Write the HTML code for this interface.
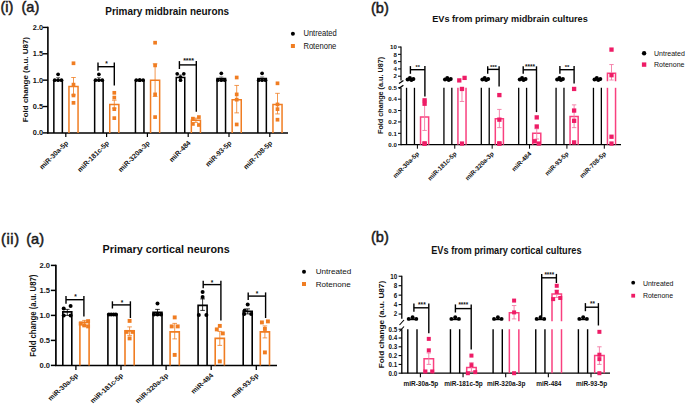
<!DOCTYPE html>
<html><head><meta charset="utf-8"><style>
html,body{margin:0;padding:0;background:#fff;}
svg{display:block;font-family:"Liberation Sans", sans-serif;}
</style></head><body>
<svg width="685" height="406" viewBox="0 0 685 406">
<rect width="685" height="406" fill="#fff"/>
<line x1="47.90" y1="26.70" x2="47.90" y2="133.60" stroke="#000" stroke-width="1.6"/>
<line x1="47.10" y1="132.90" x2="288.00" y2="132.90" stroke="#000" stroke-width="1.5"/>
<line x1="42.90" y1="132.90" x2="47.90" y2="132.90" stroke="#000" stroke-width="1.4"/>
<text x="43.10" y="135.40" font-size="7.1" font-weight="bold" text-anchor="end" fill="#111" transform="translate(43.10 135.40) scale(1.040 1) translate(-43.10 -135.40)">0.0</text>
<line x1="42.90" y1="106.53" x2="47.90" y2="106.53" stroke="#000" stroke-width="1.4"/>
<text x="43.10" y="109.03" font-size="7.1" font-weight="bold" text-anchor="end" fill="#111" transform="translate(43.10 109.03) scale(1.040 1) translate(-43.10 -109.03)">0.5</text>
<line x1="42.90" y1="80.15" x2="47.90" y2="80.15" stroke="#000" stroke-width="1.4"/>
<text x="43.10" y="82.65" font-size="7.1" font-weight="bold" text-anchor="end" fill="#111" transform="translate(43.10 82.65) scale(1.040 1) translate(-43.10 -82.65)">1.0</text>
<line x1="42.90" y1="53.78" x2="47.90" y2="53.78" stroke="#000" stroke-width="1.4"/>
<text x="43.10" y="56.28" font-size="7.1" font-weight="bold" text-anchor="end" fill="#111" transform="translate(43.10 56.28) scale(1.040 1) translate(-43.10 -56.28)">1.5</text>
<line x1="42.90" y1="27.40" x2="47.90" y2="27.40" stroke="#000" stroke-width="1.4"/>
<text x="43.10" y="29.90" font-size="7.1" font-weight="bold" text-anchor="end" fill="#111" transform="translate(43.10 29.90) scale(1.040 1) translate(-43.10 -29.90)">2.0</text>
<text x="28.30" y="79.60" font-size="8.0" font-weight="bold" text-anchor="middle" fill="#111" transform="translate(28.30 79.60) scale(0.870 1) translate(-28.30 -79.60) rotate(-90 28.30 79.60)">Fold change (a.u. U87)</text>
<line x1="65.80" y1="132.90" x2="65.80" y2="136.90" stroke="#000" stroke-width="1.2"/>
<path d="M53.85 132.90 V80.15 H62.35 V132.90" fill="none" stroke="#000" stroke-width="1.5"/>
<path d="M68.95 132.90 V86.48 H78.05 V132.90" fill="none" stroke="#F07D22" stroke-width="1.5"/>
<line x1="58.10" y1="80.15" x2="58.10" y2="77.51" stroke="#555" stroke-width="0.7"/>
<line x1="56.10" y1="77.51" x2="60.10" y2="77.51" stroke="#555" stroke-width="0.7"/>
<line x1="73.50" y1="94.92" x2="73.50" y2="77.51" stroke="#F07D22" stroke-width="0.8"/>
<line x1="71.20" y1="77.51" x2="75.80" y2="77.51" stroke="#F07D22" stroke-width="0.8"/>
<line x1="71.20" y1="94.92" x2="75.80" y2="94.92" stroke="#F07D22" stroke-width="0.8"/>
<circle cx="58.10" cy="74.35" r="1.85" fill="#000"/>
<circle cx="54.70" cy="80.15" r="1.85" fill="#000"/>
<circle cx="58.10" cy="80.15" r="1.85" fill="#000"/>
<circle cx="61.50" cy="80.15" r="1.85" fill="#000"/>
<rect x="71.65" y="61.42" width="3.7" height="3.7" fill="#F07D22"/>
<rect x="71.65" y="82.78" width="3.7" height="3.7" fill="#F07D22"/>
<rect x="71.65" y="93.60" width="3.7" height="3.7" fill="#F07D22"/>
<rect x="71.65" y="100.98" width="3.7" height="3.7" fill="#F07D22"/>
<text x="68.70" y="143.40" font-size="6.95" font-weight="bold" text-anchor="end" fill="#111" transform="rotate(-45 68.70 143.40)">miR-30a-5p</text>
<line x1="106.60" y1="132.90" x2="106.60" y2="136.90" stroke="#000" stroke-width="1.2"/>
<path d="M94.65 132.90 V80.15 H103.15 V132.90" fill="none" stroke="#000" stroke-width="1.5"/>
<path d="M109.75 132.90 V104.42 H118.85 V132.90" fill="none" stroke="#F07D22" stroke-width="1.5"/>
<line x1="98.90" y1="80.15" x2="98.90" y2="77.51" stroke="#555" stroke-width="0.7"/>
<line x1="96.90" y1="77.51" x2="100.90" y2="77.51" stroke="#555" stroke-width="0.7"/>
<line x1="114.30" y1="108.11" x2="114.30" y2="100.20" stroke="#F07D22" stroke-width="0.8"/>
<line x1="112.00" y1="100.20" x2="116.60" y2="100.20" stroke="#F07D22" stroke-width="0.8"/>
<line x1="112.00" y1="108.11" x2="116.60" y2="108.11" stroke="#F07D22" stroke-width="0.8"/>
<circle cx="98.90" cy="74.35" r="1.85" fill="#000"/>
<circle cx="95.50" cy="80.15" r="1.85" fill="#000"/>
<circle cx="98.90" cy="80.15" r="1.85" fill="#000"/>
<circle cx="102.30" cy="80.15" r="1.85" fill="#000"/>
<rect x="112.45" y="90.96" width="3.7" height="3.7" fill="#F07D22"/>
<rect x="112.45" y="95.71" width="3.7" height="3.7" fill="#F07D22"/>
<rect x="112.45" y="107.31" width="3.7" height="3.7" fill="#F07D22"/>
<rect x="112.45" y="116.28" width="3.7" height="3.7" fill="#F07D22"/>
<text x="109.50" y="143.40" font-size="6.95" font-weight="bold" text-anchor="end" fill="#111" transform="rotate(-45 109.50 143.40)">miR-181c-5p</text>
<line x1="147.40" y1="132.90" x2="147.40" y2="136.90" stroke="#000" stroke-width="1.2"/>
<path d="M135.45 132.90 V80.15 H143.95 V132.90" fill="none" stroke="#000" stroke-width="1.5"/>
<path d="M150.55 132.90 V80.15 H159.65 V132.90" fill="none" stroke="#F07D22" stroke-width="1.5"/>
<line x1="139.70" y1="80.15" x2="139.70" y2="79.62" stroke="#555" stroke-width="0.7"/>
<line x1="137.70" y1="79.62" x2="141.70" y2="79.62" stroke="#555" stroke-width="0.7"/>
<line x1="155.10" y1="96.50" x2="155.10" y2="63.80" stroke="#F07D22" stroke-width="0.8"/>
<line x1="152.80" y1="63.80" x2="157.40" y2="63.80" stroke="#F07D22" stroke-width="0.8"/>
<line x1="152.80" y1="96.50" x2="157.40" y2="96.50" stroke="#F07D22" stroke-width="0.8"/>
<circle cx="136.30" cy="80.15" r="1.85" fill="#000"/>
<circle cx="139.70" cy="80.15" r="1.85" fill="#000"/>
<circle cx="143.10" cy="80.15" r="1.85" fill="#000"/>
<circle cx="139.70" cy="80.15" r="1.85" fill="#000"/>
<rect x="153.25" y="40.85" width="3.7" height="3.7" fill="#F07D22"/>
<rect x="153.25" y="63.53" width="3.7" height="3.7" fill="#F07D22"/>
<rect x="153.25" y="92.54" width="3.7" height="3.7" fill="#F07D22"/>
<rect x="153.25" y="115.23" width="3.7" height="3.7" fill="#F07D22"/>
<text x="150.30" y="143.40" font-size="6.95" font-weight="bold" text-anchor="end" fill="#111" transform="rotate(-45 150.30 143.40)">miR-320a-3p</text>
<line x1="188.20" y1="132.90" x2="188.20" y2="136.90" stroke="#000" stroke-width="1.2"/>
<path d="M176.25 132.90 V77.51 H184.75 V132.90" fill="none" stroke="#000" stroke-width="1.5"/>
<path d="M191.35 132.90 V120.24 H200.45 V132.90" fill="none" stroke="#F07D22" stroke-width="1.5"/>
<line x1="180.50" y1="77.51" x2="180.50" y2="74.88" stroke="#555" stroke-width="0.7"/>
<line x1="178.50" y1="74.88" x2="182.50" y2="74.88" stroke="#555" stroke-width="0.7"/>
<line x1="195.90" y1="122.35" x2="195.90" y2="118.13" stroke="#F07D22" stroke-width="0.8"/>
<line x1="193.60" y1="118.13" x2="198.20" y2="118.13" stroke="#F07D22" stroke-width="0.8"/>
<line x1="193.60" y1="122.35" x2="198.20" y2="122.35" stroke="#F07D22" stroke-width="0.8"/>
<circle cx="177.20" cy="73.82" r="1.85" fill="#000"/>
<circle cx="183.80" cy="73.82" r="1.85" fill="#000"/>
<circle cx="180.50" cy="76.98" r="1.85" fill="#000"/>
<circle cx="180.50" cy="80.15" r="1.85" fill="#000"/>
<rect x="191.05" y="116.81" width="3.7" height="3.7" fill="#F07D22"/>
<rect x="197.05" y="115.23" width="3.7" height="3.7" fill="#F07D22"/>
<rect x="191.05" y="122.08" width="3.7" height="3.7" fill="#F07D22"/>
<rect x="197.05" y="123.14" width="3.7" height="3.7" fill="#F07D22"/>
<text x="191.10" y="143.40" font-size="6.95" font-weight="bold" text-anchor="end" fill="#111" transform="rotate(-45 191.10 143.40)">miR-484</text>
<line x1="229.00" y1="132.90" x2="229.00" y2="136.90" stroke="#000" stroke-width="1.2"/>
<path d="M217.05 132.90 V78.57 H225.55 V132.90" fill="none" stroke="#000" stroke-width="1.5"/>
<path d="M232.15 132.90 V99.67 H241.25 V132.90" fill="none" stroke="#F07D22" stroke-width="1.5"/>
<line x1="221.30" y1="78.57" x2="221.30" y2="76.98" stroke="#555" stroke-width="0.7"/>
<line x1="219.30" y1="76.98" x2="223.30" y2="76.98" stroke="#555" stroke-width="0.7"/>
<line x1="236.70" y1="112.86" x2="236.70" y2="85.43" stroke="#F07D22" stroke-width="0.8"/>
<line x1="234.40" y1="85.43" x2="239.00" y2="85.43" stroke="#F07D22" stroke-width="0.8"/>
<line x1="234.40" y1="112.86" x2="239.00" y2="112.86" stroke="#F07D22" stroke-width="0.8"/>
<circle cx="221.30" cy="73.29" r="1.85" fill="#000"/>
<circle cx="217.90" cy="80.15" r="1.85" fill="#000"/>
<circle cx="221.30" cy="80.15" r="1.85" fill="#000"/>
<circle cx="224.70" cy="80.15" r="1.85" fill="#000"/>
<rect x="234.85" y="75.66" width="3.7" height="3.7" fill="#F07D22"/>
<rect x="234.85" y="92.54" width="3.7" height="3.7" fill="#F07D22"/>
<rect x="234.85" y="97.82" width="3.7" height="3.7" fill="#F07D22"/>
<rect x="234.85" y="122.61" width="3.7" height="3.7" fill="#F07D22"/>
<text x="231.90" y="143.40" font-size="6.95" font-weight="bold" text-anchor="end" fill="#111" transform="rotate(-45 231.90 143.40)">miR-93-5p</text>
<line x1="269.80" y1="132.90" x2="269.80" y2="136.90" stroke="#000" stroke-width="1.2"/>
<path d="M257.85 132.90 V78.57 H266.35 V132.90" fill="none" stroke="#000" stroke-width="1.5"/>
<path d="M272.95 132.90 V104.42 H282.05 V132.90" fill="none" stroke="#F07D22" stroke-width="1.5"/>
<line x1="262.10" y1="78.57" x2="262.10" y2="76.98" stroke="#555" stroke-width="0.7"/>
<line x1="260.10" y1="76.98" x2="264.10" y2="76.98" stroke="#555" stroke-width="0.7"/>
<line x1="277.50" y1="113.91" x2="277.50" y2="93.34" stroke="#F07D22" stroke-width="0.8"/>
<line x1="275.20" y1="93.34" x2="279.80" y2="93.34" stroke="#F07D22" stroke-width="0.8"/>
<line x1="275.20" y1="113.91" x2="279.80" y2="113.91" stroke="#F07D22" stroke-width="0.8"/>
<circle cx="262.10" cy="73.29" r="1.85" fill="#000"/>
<circle cx="258.70" cy="80.15" r="1.85" fill="#000"/>
<circle cx="262.10" cy="80.15" r="1.85" fill="#000"/>
<circle cx="265.50" cy="80.15" r="1.85" fill="#000"/>
<rect x="275.65" y="81.47" width="3.7" height="3.7" fill="#F07D22"/>
<rect x="275.65" y="102.57" width="3.7" height="3.7" fill="#F07D22"/>
<rect x="275.65" y="107.31" width="3.7" height="3.7" fill="#F07D22"/>
<rect x="275.65" y="117.86" width="3.7" height="3.7" fill="#F07D22"/>
<text x="272.70" y="143.40" font-size="6.95" font-weight="bold" text-anchor="end" fill="#111" transform="rotate(-45 272.70 143.40)">miR-708-5p</text>
<line x1="98.00" y1="66.70" x2="114.30" y2="66.70" stroke="#000" stroke-width="1.4"/>
<line x1="98.00" y1="62.40" x2="98.00" y2="70.80" stroke="#000" stroke-width="1.4"/>
<line x1="114.30" y1="62.40" x2="114.30" y2="85.50" stroke="#000" stroke-width="1.4"/>
<text x="106.40" y="65.85" font-size="6.5" font-weight="bold" text-anchor="middle" fill="#111">*</text>
<line x1="179.40" y1="64.90" x2="196.30" y2="64.90" stroke="#000" stroke-width="1.4"/>
<line x1="179.40" y1="61.10" x2="179.40" y2="69.00" stroke="#000" stroke-width="1.4"/>
<line x1="196.30" y1="61.10" x2="196.30" y2="111.80" stroke="#000" stroke-width="1.4"/>
<text x="188.60" y="62.80" font-size="7.0" font-weight="bold" text-anchor="middle" fill="#111">****</text>
<circle cx="292.90" cy="33.70" r="2.0" fill="#000"/>
<text x="303.40" y="36.40" font-size="8.4" font-weight="normal" text-anchor="start" fill="#111" transform="translate(303.40 36.40) scale(0.905 1) translate(-303.40 -36.40)">Untreated</text>
<rect x="290.90" y="44.00" width="4.0" height="4.0" fill="#F07D22"/>
<text x="303.40" y="48.90" font-size="8.4" font-weight="normal" text-anchor="start" fill="#111" transform="translate(303.40 48.90) scale(0.905 1) translate(-303.40 -48.90)">Rotenone</text>
<text x="105.30" y="14.75" font-size="11.0" font-weight="bold" text-anchor="start" fill="#111" transform="translate(105.30 14.75) scale(0.905 1) translate(-105.30 -14.75)">Primary midbrain neurons</text>
<text x="0.40" y="11.90" font-size="14.6" font-weight="normal" text-anchor="start" fill="#1a1a1a" stroke="#1a1a1a" stroke-width="0.5">(i)</text>
<text x="21.50" y="11.90" font-size="14.6" font-weight="normal" text-anchor="start" fill="#1a1a1a" stroke="#1a1a1a" stroke-width="0.5">(a)</text>
<line x1="401.00" y1="46.55" x2="401.00" y2="80.50" stroke="#000" stroke-width="1.2"/>
<line x1="401.00" y1="87.80" x2="401.00" y2="145.20" stroke="#000" stroke-width="1.2"/>
<line x1="401.00" y1="144.70" x2="621.00" y2="144.70" stroke="#000" stroke-width="1.2"/>
<line x1="399.00" y1="83.50" x2="403.40" y2="80.50" stroke="#000" stroke-width="1.3"/>
<line x1="399.00" y1="88.40" x2="403.40" y2="85.30" stroke="#000" stroke-width="1.3"/>
<line x1="398.00" y1="76.21" x2="401.00" y2="76.21" stroke="#000" stroke-width="1.0"/>
<text x="396.80" y="78.41" font-size="6.1" font-weight="bold" text-anchor="end" fill="#111">2</text>
<line x1="398.00" y1="68.92" x2="401.00" y2="68.92" stroke="#000" stroke-width="1.0"/>
<text x="396.80" y="71.12" font-size="6.1" font-weight="bold" text-anchor="end" fill="#111">4</text>
<line x1="398.00" y1="61.63" x2="401.00" y2="61.63" stroke="#000" stroke-width="1.0"/>
<text x="396.80" y="63.83" font-size="6.1" font-weight="bold" text-anchor="end" fill="#111">6</text>
<line x1="398.00" y1="54.34" x2="401.00" y2="54.34" stroke="#000" stroke-width="1.0"/>
<text x="396.80" y="56.54" font-size="6.1" font-weight="bold" text-anchor="end" fill="#111">8</text>
<line x1="398.00" y1="47.05" x2="401.00" y2="47.05" stroke="#000" stroke-width="1.0"/>
<text x="396.80" y="49.25" font-size="6.1" font-weight="bold" text-anchor="end" fill="#111">10</text>
<line x1="398.00" y1="144.70" x2="401.00" y2="144.70" stroke="#000" stroke-width="1.0"/>
<text x="396.80" y="146.90" font-size="6.1" font-weight="bold" text-anchor="end" fill="#111">0.0</text>
<line x1="398.00" y1="133.32" x2="401.00" y2="133.32" stroke="#000" stroke-width="1.0"/>
<text x="396.80" y="135.52" font-size="6.1" font-weight="bold" text-anchor="end" fill="#111">0.1</text>
<line x1="398.00" y1="121.94" x2="401.00" y2="121.94" stroke="#000" stroke-width="1.0"/>
<text x="396.80" y="124.14" font-size="6.1" font-weight="bold" text-anchor="end" fill="#111">0.2</text>
<line x1="398.00" y1="110.56" x2="401.00" y2="110.56" stroke="#000" stroke-width="1.0"/>
<text x="396.80" y="112.76" font-size="6.1" font-weight="bold" text-anchor="end" fill="#111">0.3</text>
<line x1="398.00" y1="99.18" x2="401.00" y2="99.18" stroke="#000" stroke-width="1.0"/>
<text x="396.80" y="101.38" font-size="6.1" font-weight="bold" text-anchor="end" fill="#111">0.4</text>
<line x1="398.00" y1="87.80" x2="401.00" y2="87.80" stroke="#000" stroke-width="1.0"/>
<text x="396.80" y="90.00" font-size="6.1" font-weight="bold" text-anchor="end" fill="#111">0.5</text>
<text x="382.60" y="95.40" font-size="7.25" font-weight="bold" text-anchor="middle" fill="#111" transform="translate(382.60 95.40) scale(0.920 1) translate(-382.60 -95.40) rotate(-90 382.60 95.40)">Fold change (a.u. U87)</text>
<line x1="417.40" y1="144.70" x2="417.40" y2="148.70" stroke="#000" stroke-width="1.0"/>
<line x1="406.55" y1="87.80" x2="406.55" y2="144.70" stroke="#000" stroke-width="1.3"/>
<line x1="414.45" y1="87.80" x2="414.45" y2="144.70" stroke="#000" stroke-width="1.3"/>
<line x1="406.90" y1="80.00" x2="414.10" y2="80.00" stroke="#000" stroke-width="1.5"/>
<circle cx="407.60" cy="79.50" r="2.0" fill="#000"/>
<circle cx="409.90" cy="77.90" r="2.0" fill="#000"/>
<circle cx="411.40" cy="79.90" r="2.0" fill="#000"/>
<circle cx="413.40" cy="79.10" r="2.0" fill="#000"/>
<path d="M420.55 144.70 V117.05 H428.65 V144.70" fill="none" stroke="#F9407F" stroke-width="1.5"/>
<line x1="424.60" y1="130.47" x2="424.60" y2="100.32" stroke="#F47BA5" stroke-width="0.9"/>
<line x1="422.40" y1="100.32" x2="426.80" y2="100.32" stroke="#F47BA5" stroke-width="0.9"/>
<line x1="422.40" y1="130.47" x2="426.80" y2="130.47" stroke="#F47BA5" stroke-width="0.9"/>
<rect x="422.45" y="98.17" width="4.3" height="4.3" fill="#EE1C66"/>
<rect x="422.45" y="101.58" width="4.3" height="4.3" fill="#EE1C66"/>
<rect x="422.45" y="141.41" width="4.3" height="4.3" fill="#EE1C66"/>
<rect x="422.45" y="141.41" width="4.3" height="4.3" fill="#EE1C66"/>
<text x="419.60" y="154.20" font-size="6.35" font-weight="bold" text-anchor="end" fill="#111" transform="rotate(-45 419.60 154.20)">miR-30a-5p</text>
<line x1="454.78" y1="144.70" x2="454.78" y2="148.70" stroke="#000" stroke-width="1.0"/>
<line x1="443.93" y1="87.80" x2="443.93" y2="144.70" stroke="#000" stroke-width="1.3"/>
<line x1="451.83" y1="87.80" x2="451.83" y2="144.70" stroke="#000" stroke-width="1.3"/>
<line x1="444.28" y1="80.00" x2="451.48" y2="80.00" stroke="#000" stroke-width="1.5"/>
<circle cx="444.98" cy="79.50" r="2.0" fill="#000"/>
<circle cx="447.28" cy="77.90" r="2.0" fill="#000"/>
<circle cx="448.78" cy="79.90" r="2.0" fill="#000"/>
<circle cx="450.78" cy="79.10" r="2.0" fill="#000"/>
<line x1="457.93" y1="87.80" x2="457.93" y2="144.70" stroke="#F9407F" stroke-width="1.5"/>
<line x1="466.03" y1="87.80" x2="466.03" y2="144.70" stroke="#F9407F" stroke-width="1.5"/>
<line x1="461.98" y1="101.46" x2="461.98" y2="88.94" stroke="#F47BA5" stroke-width="0.9"/>
<line x1="459.78" y1="88.94" x2="464.18" y2="88.94" stroke="#F47BA5" stroke-width="0.9"/>
<line x1="459.78" y1="101.46" x2="464.18" y2="101.46" stroke="#F47BA5" stroke-width="0.9"/>
<rect x="462.43" y="75.74" width="4.3" height="4.3" fill="#EE1C66"/>
<rect x="457.13" y="78.25" width="4.3" height="4.3" fill="#EE1C66"/>
<rect x="459.83" y="86.79" width="4.3" height="4.3" fill="#EE1C66"/>
<rect x="459.83" y="141.41" width="4.3" height="4.3" fill="#EE1C66"/>
<text x="456.98" y="154.20" font-size="6.35" font-weight="bold" text-anchor="end" fill="#111" transform="rotate(-45 456.98 154.20)">miR-181c-5p</text>
<line x1="492.16" y1="144.70" x2="492.16" y2="148.70" stroke="#000" stroke-width="1.0"/>
<line x1="481.31" y1="87.80" x2="481.31" y2="144.70" stroke="#000" stroke-width="1.3"/>
<line x1="489.21" y1="87.80" x2="489.21" y2="144.70" stroke="#000" stroke-width="1.3"/>
<line x1="481.66" y1="80.00" x2="488.86" y2="80.00" stroke="#000" stroke-width="1.5"/>
<circle cx="482.36" cy="79.50" r="2.0" fill="#000"/>
<circle cx="484.66" cy="77.90" r="2.0" fill="#000"/>
<circle cx="486.16" cy="79.90" r="2.0" fill="#000"/>
<circle cx="488.16" cy="79.10" r="2.0" fill="#000"/>
<path d="M495.31 144.70 V118.87 H503.41 V144.70" fill="none" stroke="#F9407F" stroke-width="1.5"/>
<line x1="499.36" y1="127.63" x2="499.36" y2="109.42" stroke="#F47BA5" stroke-width="0.9"/>
<line x1="497.16" y1="109.42" x2="501.56" y2="109.42" stroke="#F47BA5" stroke-width="0.9"/>
<line x1="497.16" y1="127.63" x2="501.56" y2="127.63" stroke="#F47BA5" stroke-width="0.9"/>
<rect x="497.21" y="92.93" width="4.3" height="4.3" fill="#EE1C66"/>
<rect x="497.21" y="117.51" width="4.3" height="4.3" fill="#EE1C66"/>
<rect x="497.21" y="141.41" width="4.3" height="4.3" fill="#EE1C66"/>
<rect x="497.21" y="141.41" width="4.3" height="4.3" fill="#EE1C66"/>
<text x="494.36" y="154.20" font-size="6.35" font-weight="bold" text-anchor="end" fill="#111" transform="rotate(-45 494.36 154.20)">miR-320a-3p</text>
<line x1="529.54" y1="144.70" x2="529.54" y2="148.70" stroke="#000" stroke-width="1.0"/>
<line x1="518.69" y1="87.80" x2="518.69" y2="144.70" stroke="#000" stroke-width="1.3"/>
<line x1="526.59" y1="87.80" x2="526.59" y2="144.70" stroke="#000" stroke-width="1.3"/>
<line x1="519.04" y1="80.00" x2="526.24" y2="80.00" stroke="#000" stroke-width="1.5"/>
<circle cx="519.74" cy="79.50" r="2.0" fill="#000"/>
<circle cx="522.04" cy="77.90" r="2.0" fill="#000"/>
<circle cx="523.54" cy="79.90" r="2.0" fill="#000"/>
<circle cx="525.54" cy="79.10" r="2.0" fill="#000"/>
<path d="M532.69 144.70 V133.32 H540.79 V144.70" fill="none" stroke="#F9407F" stroke-width="1.5"/>
<line x1="536.74" y1="139.01" x2="536.74" y2="128.77" stroke="#F47BA5" stroke-width="0.9"/>
<line x1="534.54" y1="128.77" x2="538.94" y2="128.77" stroke="#F47BA5" stroke-width="0.9"/>
<line x1="534.54" y1="139.01" x2="538.94" y2="139.01" stroke="#F47BA5" stroke-width="0.9"/>
<rect x="534.59" y="115.24" width="4.3" height="4.3" fill="#EE1C66"/>
<rect x="534.59" y="124.34" width="4.3" height="4.3" fill="#EE1C66"/>
<rect x="532.59" y="139.14" width="4.3" height="4.3" fill="#EE1C66"/>
<rect x="536.59" y="141.41" width="4.3" height="4.3" fill="#EE1C66"/>
<text x="531.74" y="154.20" font-size="6.35" font-weight="bold" text-anchor="end" fill="#111" transform="rotate(-45 531.74 154.20)">miR-484</text>
<line x1="566.92" y1="144.70" x2="566.92" y2="148.70" stroke="#000" stroke-width="1.0"/>
<line x1="556.07" y1="87.80" x2="556.07" y2="144.70" stroke="#000" stroke-width="1.3"/>
<line x1="563.97" y1="87.80" x2="563.97" y2="144.70" stroke="#000" stroke-width="1.3"/>
<line x1="556.42" y1="80.00" x2="563.62" y2="80.00" stroke="#000" stroke-width="1.5"/>
<circle cx="557.12" cy="79.50" r="2.0" fill="#000"/>
<circle cx="559.42" cy="77.90" r="2.0" fill="#000"/>
<circle cx="560.92" cy="79.90" r="2.0" fill="#000"/>
<circle cx="562.92" cy="79.10" r="2.0" fill="#000"/>
<path d="M570.07 144.70 V116.48 H578.17 V144.70" fill="none" stroke="#F9407F" stroke-width="1.5"/>
<line x1="574.12" y1="127.63" x2="574.12" y2="104.87" stroke="#F47BA5" stroke-width="0.9"/>
<line x1="571.92" y1="104.87" x2="576.32" y2="104.87" stroke="#F47BA5" stroke-width="0.9"/>
<line x1="571.92" y1="127.63" x2="576.32" y2="127.63" stroke="#F47BA5" stroke-width="0.9"/>
<rect x="571.97" y="86.79" width="4.3" height="4.3" fill="#EE1C66"/>
<rect x="571.97" y="108.41" width="4.3" height="4.3" fill="#EE1C66"/>
<rect x="571.97" y="118.65" width="4.3" height="4.3" fill="#EE1C66"/>
<rect x="571.97" y="140.27" width="4.3" height="4.3" fill="#EE1C66"/>
<text x="569.12" y="154.20" font-size="6.35" font-weight="bold" text-anchor="end" fill="#111" transform="rotate(-45 569.12 154.20)">miR-93-5p</text>
<line x1="604.30" y1="144.70" x2="604.30" y2="148.70" stroke="#000" stroke-width="1.0"/>
<line x1="593.45" y1="87.80" x2="593.45" y2="144.70" stroke="#000" stroke-width="1.3"/>
<line x1="601.35" y1="87.80" x2="601.35" y2="144.70" stroke="#000" stroke-width="1.3"/>
<line x1="593.80" y1="80.00" x2="601.00" y2="80.00" stroke="#000" stroke-width="1.5"/>
<circle cx="594.50" cy="79.50" r="2.0" fill="#000"/>
<circle cx="596.80" cy="77.90" r="2.0" fill="#000"/>
<circle cx="598.30" cy="79.90" r="2.0" fill="#000"/>
<circle cx="600.30" cy="79.10" r="2.0" fill="#000"/>
<path d="M607.45 81.20 V73.18 H615.55 V81.20" fill="none" stroke="#F9407F" stroke-width="1.5"/>
<line x1="607.45" y1="87.80" x2="607.45" y2="144.70" stroke="#F9407F" stroke-width="1.5"/>
<line x1="615.55" y1="87.80" x2="615.55" y2="144.70" stroke="#F9407F" stroke-width="1.5"/>
<line x1="611.50" y1="80.00" x2="611.50" y2="64.55" stroke="#F47BA5" stroke-width="0.9"/>
<line x1="609.30" y1="64.55" x2="613.70" y2="64.55" stroke="#F47BA5" stroke-width="0.9"/>
<line x1="609.30" y1="80.00" x2="613.70" y2="80.00" stroke="#F47BA5" stroke-width="0.9"/>
<rect x="609.35" y="47.45" width="4.3" height="4.3" fill="#EE1C66"/>
<rect x="609.35" y="73.04" width="4.3" height="4.3" fill="#EE1C66"/>
<rect x="609.35" y="134.58" width="4.3" height="4.3" fill="#EE1C66"/>
<rect x="609.35" y="141.41" width="4.3" height="4.3" fill="#EE1C66"/>
<text x="606.50" y="154.20" font-size="6.35" font-weight="bold" text-anchor="end" fill="#111" transform="rotate(-45 606.50 154.20)">miR-708-5p</text>
<line x1="410.40" y1="69.70" x2="424.90" y2="69.70" stroke="#000" stroke-width="1.4"/>
<line x1="410.40" y1="66.10" x2="410.40" y2="73.80" stroke="#000" stroke-width="1.4"/>
<line x1="424.90" y1="66.10" x2="424.90" y2="96.60" stroke="#000" stroke-width="1.4"/>
<text x="417.70" y="69.15" font-size="5.5" font-weight="bold" text-anchor="middle" fill="#111">**</text>
<line x1="487.70" y1="69.40" x2="499.10" y2="69.40" stroke="#000" stroke-width="1.4"/>
<line x1="487.70" y1="66.30" x2="487.70" y2="73.80" stroke="#000" stroke-width="1.4"/>
<line x1="499.10" y1="66.30" x2="499.10" y2="86.60" stroke="#000" stroke-width="1.4"/>
<text x="493.40" y="68.90" font-size="6.0" font-weight="bold" text-anchor="middle" fill="#111">***</text>
<line x1="523.20" y1="69.80" x2="536.50" y2="69.80" stroke="#000" stroke-width="1.4"/>
<line x1="523.20" y1="66.30" x2="523.20" y2="73.80" stroke="#000" stroke-width="1.4"/>
<line x1="536.50" y1="66.30" x2="536.50" y2="112.10" stroke="#000" stroke-width="1.4"/>
<text x="530.00" y="68.80" font-size="6.4" font-weight="bold" text-anchor="middle" fill="#111">****</text>
<line x1="559.90" y1="69.70" x2="574.10" y2="69.70" stroke="#000" stroke-width="1.4"/>
<line x1="559.90" y1="66.10" x2="559.90" y2="73.70" stroke="#000" stroke-width="1.4"/>
<line x1="574.10" y1="66.10" x2="574.10" y2="83.40" stroke="#000" stroke-width="1.4"/>
<text x="567.00" y="68.90" font-size="6.0" font-weight="bold" text-anchor="middle" fill="#111">**</text>
<circle cx="644.10" cy="53.30" r="2.2" fill="#000"/>
<text x="654.00" y="55.80" font-size="7.9" font-weight="normal" text-anchor="start" fill="#111" transform="translate(654.00 55.80) scale(0.890 1) translate(-654.00 -55.80)">Untreated</text>
<rect x="641.90" y="62.40" width="4.4" height="4.4" fill="#EE1C66"/>
<text x="654.00" y="67.10" font-size="7.9" font-weight="normal" text-anchor="start" fill="#111" transform="translate(654.00 67.10) scale(0.890 1) translate(-654.00 -67.10)">Rotenone</text>
<text x="432.20" y="21.60" font-size="9.4" font-weight="bold" text-anchor="start" fill="#111" transform="translate(432.20 21.60) scale(0.975 1) translate(-432.20 -21.60)">EVs from primary midbrain cultures</text>
<text x="371.00" y="12.50" font-size="14.6" font-weight="normal" text-anchor="start" fill="#1a1a1a" stroke="#1a1a1a" stroke-width="0.5">(b)</text>
<line x1="55.90" y1="264.70" x2="55.90" y2="366.10" stroke="#000" stroke-width="1.7"/>
<line x1="55.10" y1="365.40" x2="277.00" y2="365.40" stroke="#000" stroke-width="1.5"/>
<line x1="50.90" y1="365.40" x2="55.90" y2="365.40" stroke="#000" stroke-width="1.5"/>
<text x="50.10" y="367.90" font-size="7.0" font-weight="bold" text-anchor="end" fill="#111" transform="translate(50.10 367.90) scale(1.090 1) translate(-50.10 -367.90)">0.0</text>
<line x1="50.90" y1="340.40" x2="55.90" y2="340.40" stroke="#000" stroke-width="1.5"/>
<text x="50.10" y="342.90" font-size="7.0" font-weight="bold" text-anchor="end" fill="#111" transform="translate(50.10 342.90) scale(1.090 1) translate(-50.10 -342.90)">0.5</text>
<line x1="50.90" y1="315.40" x2="55.90" y2="315.40" stroke="#000" stroke-width="1.5"/>
<text x="50.10" y="317.90" font-size="7.0" font-weight="bold" text-anchor="end" fill="#111" transform="translate(50.10 317.90) scale(1.090 1) translate(-50.10 -317.90)">1.0</text>
<line x1="50.90" y1="290.40" x2="55.90" y2="290.40" stroke="#000" stroke-width="1.5"/>
<text x="50.10" y="292.90" font-size="7.0" font-weight="bold" text-anchor="end" fill="#111" transform="translate(50.10 292.90) scale(1.090 1) translate(-50.10 -292.90)">1.5</text>
<line x1="50.90" y1="265.40" x2="55.90" y2="265.40" stroke="#000" stroke-width="1.5"/>
<text x="50.10" y="267.90" font-size="7.0" font-weight="bold" text-anchor="end" fill="#111" transform="translate(50.10 267.90) scale(1.090 1) translate(-50.10 -267.90)">2.0</text>
<text x="36.20" y="315.75" font-size="7.7" font-weight="bold" text-anchor="middle" fill="#111" transform="translate(36.20 315.75) scale(1.070 1) translate(-36.20 -315.75) rotate(-90 36.20 315.75)">Fold change (a.u. U87)</text>
<line x1="75.90" y1="365.40" x2="75.90" y2="369.90" stroke="#000" stroke-width="1.3"/>
<path d="M62.80 365.40 V311.90 H71.80 V365.40" fill="none" stroke="#000" stroke-width="1.6"/>
<path d="M79.90 365.40 V322.40 H89.10 V365.40" fill="none" stroke="#F07D22" stroke-width="1.6"/>
<line x1="67.30" y1="315.40" x2="67.30" y2="309.40" stroke="#000" stroke-width="0.8"/>
<line x1="65.00" y1="309.40" x2="69.60" y2="309.40" stroke="#000" stroke-width="0.8"/>
<line x1="65.00" y1="315.40" x2="69.60" y2="315.40" stroke="#000" stroke-width="0.8"/>
<line x1="84.50" y1="325.40" x2="84.50" y2="320.40" stroke="#F07D22" stroke-width="0.8"/>
<line x1="82.20" y1="320.40" x2="86.80" y2="320.40" stroke="#F07D22" stroke-width="0.8"/>
<line x1="82.20" y1="325.40" x2="86.80" y2="325.40" stroke="#F07D22" stroke-width="0.8"/>
<circle cx="70.60" cy="305.90" r="2.0" fill="#000"/>
<circle cx="63.70" cy="308.40" r="2.0" fill="#000"/>
<circle cx="63.70" cy="315.40" r="2.0" fill="#000"/>
<circle cx="70.60" cy="315.40" r="2.0" fill="#000"/>
<rect x="86.15" y="319.20" width="3.9" height="3.9" fill="#F07D22"/>
<rect x="78.75" y="321.70" width="3.9" height="3.9" fill="#F07D22"/>
<rect x="86.15" y="324.45" width="3.9" height="3.9" fill="#F07D22"/>
<rect x="82.25" y="323.45" width="3.9" height="3.9" fill="#F07D22"/>
<text x="78.70" y="376.00" font-size="6.55" font-weight="bold" text-anchor="end" fill="#111" transform="translate(78.70 376.00) scale(1.120 1) translate(-78.70 -376.00) rotate(-45 78.70 376.00)">miR-30a-5p</text>
<line x1="121.00" y1="365.40" x2="121.00" y2="369.90" stroke="#000" stroke-width="1.3"/>
<path d="M107.90 365.40 V314.40 H116.90 V365.40" fill="none" stroke="#000" stroke-width="1.6"/>
<path d="M125.00 365.40 V330.90 H134.20 V365.40" fill="none" stroke="#F07D22" stroke-width="1.6"/>
<line x1="112.40" y1="315.40" x2="112.40" y2="313.90" stroke="#000" stroke-width="0.8"/>
<line x1="110.10" y1="313.90" x2="114.70" y2="313.90" stroke="#000" stroke-width="0.8"/>
<line x1="110.10" y1="315.40" x2="114.70" y2="315.40" stroke="#000" stroke-width="0.8"/>
<line x1="129.60" y1="335.40" x2="129.60" y2="326.90" stroke="#F07D22" stroke-width="0.8"/>
<line x1="127.30" y1="326.90" x2="131.90" y2="326.90" stroke="#F07D22" stroke-width="0.8"/>
<line x1="127.30" y1="335.40" x2="131.90" y2="335.40" stroke="#F07D22" stroke-width="0.8"/>
<circle cx="108.90" cy="314.40" r="2.0" fill="#000"/>
<circle cx="111.20" cy="314.40" r="2.0" fill="#000"/>
<circle cx="113.60" cy="314.40" r="2.0" fill="#000"/>
<circle cx="115.90" cy="314.40" r="2.0" fill="#000"/>
<rect x="127.65" y="318.95" width="3.9" height="3.9" fill="#F07D22"/>
<rect x="124.65" y="329.95" width="3.9" height="3.9" fill="#F07D22"/>
<rect x="130.65" y="329.95" width="3.9" height="3.9" fill="#F07D22"/>
<rect x="127.65" y="336.45" width="3.9" height="3.9" fill="#F07D22"/>
<text x="123.80" y="376.00" font-size="6.55" font-weight="bold" text-anchor="end" fill="#111" transform="translate(123.80 376.00) scale(1.120 1) translate(-123.80 -376.00) rotate(-45 123.80 376.00)">miR-181c-5p</text>
<line x1="166.10" y1="365.40" x2="166.10" y2="369.90" stroke="#000" stroke-width="1.3"/>
<path d="M153.00 365.40 V312.40 H162.00 V365.40" fill="none" stroke="#000" stroke-width="1.6"/>
<path d="M170.10 365.40 V331.90 H179.30 V365.40" fill="none" stroke="#F07D22" stroke-width="1.6"/>
<line x1="157.50" y1="315.40" x2="157.50" y2="309.40" stroke="#000" stroke-width="0.8"/>
<line x1="155.20" y1="309.40" x2="159.80" y2="309.40" stroke="#000" stroke-width="0.8"/>
<line x1="155.20" y1="315.40" x2="159.80" y2="315.40" stroke="#000" stroke-width="0.8"/>
<line x1="174.70" y1="338.90" x2="174.70" y2="323.40" stroke="#F07D22" stroke-width="0.8"/>
<line x1="172.40" y1="323.40" x2="177.00" y2="323.40" stroke="#F07D22" stroke-width="0.8"/>
<line x1="172.40" y1="338.90" x2="177.00" y2="338.90" stroke="#F07D22" stroke-width="0.8"/>
<circle cx="157.50" cy="303.40" r="2.0" fill="#000"/>
<circle cx="154.00" cy="314.40" r="2.0" fill="#000"/>
<circle cx="157.50" cy="314.40" r="2.0" fill="#000"/>
<circle cx="161.00" cy="314.40" r="2.0" fill="#000"/>
<rect x="172.75" y="315.45" width="3.9" height="3.9" fill="#F07D22"/>
<rect x="169.75" y="324.45" width="3.9" height="3.9" fill="#F07D22"/>
<rect x="175.75" y="324.45" width="3.9" height="3.9" fill="#F07D22"/>
<rect x="172.75" y="352.95" width="3.9" height="3.9" fill="#F07D22"/>
<text x="168.90" y="376.00" font-size="6.55" font-weight="bold" text-anchor="end" fill="#111" transform="translate(168.90 376.00) scale(1.120 1) translate(-168.90 -376.00) rotate(-45 168.90 376.00)">miR-320a-3p</text>
<line x1="211.20" y1="365.40" x2="211.20" y2="369.90" stroke="#000" stroke-width="1.3"/>
<path d="M198.10 365.40 V305.40 H207.10 V365.40" fill="none" stroke="#000" stroke-width="1.6"/>
<path d="M215.20 365.40 V338.40 H224.40 V365.40" fill="none" stroke="#F07D22" stroke-width="1.6"/>
<line x1="202.60" y1="310.40" x2="202.60" y2="298.90" stroke="#000" stroke-width="0.8"/>
<line x1="200.30" y1="298.90" x2="204.90" y2="298.90" stroke="#000" stroke-width="0.8"/>
<line x1="200.30" y1="310.40" x2="204.90" y2="310.40" stroke="#000" stroke-width="0.8"/>
<line x1="219.80" y1="345.40" x2="219.80" y2="331.40" stroke="#F07D22" stroke-width="0.8"/>
<line x1="217.50" y1="331.40" x2="222.10" y2="331.40" stroke="#F07D22" stroke-width="0.8"/>
<line x1="217.50" y1="345.40" x2="222.10" y2="345.40" stroke="#F07D22" stroke-width="0.8"/>
<circle cx="202.60" cy="291.90" r="2.0" fill="#000"/>
<circle cx="202.60" cy="296.90" r="2.0" fill="#000"/>
<circle cx="198.80" cy="314.90" r="2.0" fill="#000"/>
<circle cx="206.40" cy="314.90" r="2.0" fill="#000"/>
<rect x="217.85" y="323.95" width="3.9" height="3.9" fill="#F07D22"/>
<rect x="214.85" y="327.45" width="3.9" height="3.9" fill="#F07D22"/>
<rect x="220.85" y="331.45" width="3.9" height="3.9" fill="#F07D22"/>
<rect x="217.85" y="359.45" width="3.9" height="3.9" fill="#F07D22"/>
<text x="214.00" y="376.00" font-size="6.55" font-weight="bold" text-anchor="end" fill="#111" transform="translate(214.00 376.00) scale(1.120 1) translate(-214.00 -376.00) rotate(-45 214.00 376.00)">miR-484</text>
<line x1="256.30" y1="365.40" x2="256.30" y2="369.90" stroke="#000" stroke-width="1.3"/>
<path d="M243.20 365.40 V311.40 H252.20 V365.40" fill="none" stroke="#000" stroke-width="1.6"/>
<path d="M260.30 365.40 V331.90 H269.50 V365.40" fill="none" stroke="#F07D22" stroke-width="1.6"/>
<line x1="247.70" y1="313.90" x2="247.70" y2="308.90" stroke="#000" stroke-width="0.8"/>
<line x1="245.40" y1="308.90" x2="250.00" y2="308.90" stroke="#000" stroke-width="0.8"/>
<line x1="245.40" y1="313.90" x2="250.00" y2="313.90" stroke="#000" stroke-width="0.8"/>
<line x1="264.90" y1="337.90" x2="264.90" y2="325.90" stroke="#F07D22" stroke-width="0.8"/>
<line x1="262.60" y1="325.90" x2="267.20" y2="325.90" stroke="#F07D22" stroke-width="0.8"/>
<line x1="262.60" y1="337.90" x2="267.20" y2="337.90" stroke="#F07D22" stroke-width="0.8"/>
<circle cx="247.70" cy="304.40" r="2.0" fill="#000"/>
<circle cx="244.70" cy="310.40" r="2.0" fill="#000"/>
<circle cx="244.20" cy="313.90" r="2.0" fill="#000"/>
<circle cx="251.20" cy="313.90" r="2.0" fill="#000"/>
<rect x="259.95" y="320.45" width="3.9" height="3.9" fill="#F07D22"/>
<rect x="265.95" y="319.45" width="3.9" height="3.9" fill="#F07D22"/>
<rect x="262.95" y="326.95" width="3.9" height="3.9" fill="#F07D22"/>
<rect x="262.95" y="350.45" width="3.9" height="3.9" fill="#F07D22"/>
<text x="259.10" y="376.00" font-size="6.55" font-weight="bold" text-anchor="end" fill="#111" transform="translate(259.10 376.00) scale(1.120 1) translate(-259.10 -376.00) rotate(-45 259.10 376.00)">miR-93-5p</text>
<line x1="66.00" y1="299.70" x2="83.90" y2="299.70" stroke="#000" stroke-width="1.4"/>
<line x1="66.00" y1="296.10" x2="66.00" y2="303.70" stroke="#000" stroke-width="1.4"/>
<line x1="83.90" y1="296.10" x2="83.90" y2="316.60" stroke="#000" stroke-width="1.4"/>
<text x="75.40" y="299.35" font-size="6.5" font-weight="bold" text-anchor="middle" fill="#111">*</text>
<line x1="112.40" y1="304.90" x2="130.40" y2="304.90" stroke="#000" stroke-width="1.4"/>
<line x1="112.40" y1="301.30" x2="112.40" y2="308.50" stroke="#000" stroke-width="1.4"/>
<line x1="130.40" y1="301.30" x2="130.40" y2="318.00" stroke="#000" stroke-width="1.4"/>
<text x="122.00" y="304.85" font-size="6.5" font-weight="bold" text-anchor="middle" fill="#111">*</text>
<line x1="203.20" y1="284.60" x2="220.90" y2="284.60" stroke="#000" stroke-width="1.4"/>
<line x1="203.20" y1="280.70" x2="203.20" y2="288.30" stroke="#000" stroke-width="1.4"/>
<line x1="220.90" y1="280.70" x2="220.90" y2="320.50" stroke="#000" stroke-width="1.4"/>
<text x="212.10" y="284.65" font-size="6.5" font-weight="bold" text-anchor="middle" fill="#111">*</text>
<line x1="248.20" y1="296.10" x2="265.60" y2="296.10" stroke="#000" stroke-width="1.4"/>
<line x1="248.20" y1="292.40" x2="248.20" y2="300.00" stroke="#000" stroke-width="1.4"/>
<line x1="265.60" y1="292.40" x2="265.60" y2="318.00" stroke="#000" stroke-width="1.4"/>
<text x="257.00" y="295.65" font-size="6.5" font-weight="bold" text-anchor="middle" fill="#111">*</text>
<circle cx="304.00" cy="271.70" r="2.0" fill="#000"/>
<text x="315.70" y="274.10" font-size="8.1" font-weight="normal" text-anchor="start" fill="#111">Untreated</text>
<rect x="302.00" y="282.00" width="4.0" height="4.0" fill="#F07D22"/>
<text x="315.70" y="286.50" font-size="8.1" font-weight="normal" text-anchor="start" fill="#111">Rotenone</text>
<text x="102.60" y="252.75" font-size="10.0" font-weight="bold" text-anchor="start" fill="#111" transform="translate(102.60 252.75) scale(1.080 1) translate(-102.60 -252.75)">Primary cortical neurons</text>
<text x="1.00" y="244.00" font-size="14.6" font-weight="normal" text-anchor="start" fill="#1a1a1a" stroke="#1a1a1a" stroke-width="0.5" letter-spacing="0.6">(ii)</text>
<text x="26.20" y="244.00" font-size="14.6" font-weight="normal" text-anchor="start" fill="#1a1a1a" stroke="#1a1a1a" stroke-width="0.5">(a)</text>
<line x1="401.80" y1="275.75" x2="401.80" y2="318.77" stroke="#000" stroke-width="1.3"/>
<line x1="401.80" y1="329.20" x2="401.80" y2="373.70" stroke="#000" stroke-width="1.3"/>
<line x1="401.80" y1="373.20" x2="610.00" y2="373.20" stroke="#000" stroke-width="1.3"/>
<line x1="399.50" y1="325.00" x2="404.00" y2="320.00" stroke="#000" stroke-width="1.1"/>
<line x1="399.50" y1="331.50" x2="404.00" y2="326.50" stroke="#000" stroke-width="1.1"/>
<line x1="398.60" y1="314.05" x2="401.80" y2="314.05" stroke="#000" stroke-width="1.1"/>
<text x="397.20" y="316.45" font-size="6.9" font-weight="bold" text-anchor="end" fill="#111" transform="translate(397.20 316.45) scale(0.900 1) translate(-397.20 -316.45)">2</text>
<line x1="398.60" y1="304.60" x2="401.80" y2="304.60" stroke="#000" stroke-width="1.1"/>
<text x="397.20" y="307.00" font-size="6.9" font-weight="bold" text-anchor="end" fill="#111" transform="translate(397.20 307.00) scale(0.900 1) translate(-397.20 -307.00)">4</text>
<line x1="398.60" y1="295.15" x2="401.80" y2="295.15" stroke="#000" stroke-width="1.1"/>
<text x="397.20" y="297.55" font-size="6.9" font-weight="bold" text-anchor="end" fill="#111" transform="translate(397.20 297.55) scale(0.900 1) translate(-397.20 -297.55)">6</text>
<line x1="398.60" y1="285.70" x2="401.80" y2="285.70" stroke="#000" stroke-width="1.1"/>
<text x="397.20" y="288.10" font-size="6.9" font-weight="bold" text-anchor="end" fill="#111" transform="translate(397.20 288.10) scale(0.900 1) translate(-397.20 -288.10)">8</text>
<line x1="398.60" y1="276.25" x2="401.80" y2="276.25" stroke="#000" stroke-width="1.1"/>
<text x="397.20" y="278.65" font-size="6.9" font-weight="bold" text-anchor="end" fill="#111" transform="translate(397.20 278.65) scale(0.900 1) translate(-397.20 -278.65)">10</text>
<line x1="398.60" y1="373.20" x2="401.80" y2="373.20" stroke="#000" stroke-width="1.1"/>
<text x="397.20" y="375.60" font-size="6.9" font-weight="bold" text-anchor="end" fill="#111" transform="translate(397.20 375.60) scale(0.900 1) translate(-397.20 -375.60)">0.0</text>
<line x1="398.60" y1="364.40" x2="401.80" y2="364.40" stroke="#000" stroke-width="1.1"/>
<text x="397.20" y="366.80" font-size="6.9" font-weight="bold" text-anchor="end" fill="#111" transform="translate(397.20 366.80) scale(0.900 1) translate(-397.20 -366.80)">0.1</text>
<line x1="398.60" y1="355.60" x2="401.80" y2="355.60" stroke="#000" stroke-width="1.1"/>
<text x="397.20" y="358.00" font-size="6.9" font-weight="bold" text-anchor="end" fill="#111" transform="translate(397.20 358.00) scale(0.900 1) translate(-397.20 -358.00)">0.2</text>
<line x1="398.60" y1="346.80" x2="401.80" y2="346.80" stroke="#000" stroke-width="1.1"/>
<text x="397.20" y="349.20" font-size="6.9" font-weight="bold" text-anchor="end" fill="#111" transform="translate(397.20 349.20) scale(0.900 1) translate(-397.20 -349.20)">0.3</text>
<line x1="398.60" y1="338.00" x2="401.80" y2="338.00" stroke="#000" stroke-width="1.1"/>
<text x="397.20" y="340.40" font-size="6.9" font-weight="bold" text-anchor="end" fill="#111" transform="translate(397.20 340.40) scale(0.900 1) translate(-397.20 -340.40)">0.4</text>
<line x1="398.60" y1="329.20" x2="401.80" y2="329.20" stroke="#000" stroke-width="1.1"/>
<text x="397.20" y="331.60" font-size="6.9" font-weight="bold" text-anchor="end" fill="#111" transform="translate(397.20 331.60) scale(0.900 1) translate(-397.20 -331.60)">0.5</text>
<text x="383.90" y="324.50" font-size="8.2" font-weight="bold" text-anchor="middle" fill="#111" transform="translate(383.90 324.50) scale(0.800 1) translate(-383.90 -324.50) rotate(-90 383.90 324.50)">Fold change (a.u. U87)</text>
<line x1="420.40" y1="373.20" x2="420.40" y2="377.20" stroke="#000" stroke-width="1.1"/>
<line x1="407.80" y1="329.20" x2="407.80" y2="373.20" stroke="#000" stroke-width="1.4"/>
<line x1="417.00" y1="329.20" x2="417.00" y2="373.20" stroke="#000" stroke-width="1.4"/>
<line x1="408.20" y1="319.40" x2="416.60" y2="319.40" stroke="#000" stroke-width="1.6"/>
<circle cx="408.70" cy="318.90" r="1.95" fill="#000"/>
<circle cx="412.60" cy="317.30" r="1.95" fill="#000"/>
<circle cx="416.30" cy="318.90" r="1.95" fill="#000"/>
<path d="M424.05 373.20 V358.68 H433.55 V373.20" fill="none" stroke="#F9407F" stroke-width="1.5"/>
<line x1="428.80" y1="364.40" x2="428.80" y2="352.96" stroke="#F47BA5" stroke-width="0.9"/>
<line x1="426.60" y1="352.96" x2="431.00" y2="352.96" stroke="#F47BA5" stroke-width="0.9"/>
<line x1="426.60" y1="364.40" x2="431.00" y2="364.40" stroke="#F47BA5" stroke-width="0.9"/>
<rect x="426.80" y="336.88" width="4.0" height="4.0" fill="#EE1C66"/>
<rect x="426.80" y="348.32" width="4.0" height="4.0" fill="#EE1C66"/>
<rect x="423.40" y="369.44" width="4.0" height="4.0" fill="#EE1C66"/>
<rect x="430.20" y="369.44" width="4.0" height="4.0" fill="#EE1C66"/>
<text x="420.90" y="385.80" font-size="7.6" font-weight="bold" text-anchor="middle" fill="#111" transform="translate(420.90 385.80) scale(0.850 1) translate(-420.90 -385.80)">miR-30a-5p</text>
<line x1="463.05" y1="373.20" x2="463.05" y2="377.20" stroke="#000" stroke-width="1.1"/>
<line x1="450.45" y1="329.20" x2="450.45" y2="373.20" stroke="#000" stroke-width="1.4"/>
<line x1="459.65" y1="329.20" x2="459.65" y2="373.20" stroke="#000" stroke-width="1.4"/>
<line x1="450.85" y1="319.40" x2="459.25" y2="319.40" stroke="#000" stroke-width="1.6"/>
<circle cx="451.35" cy="318.90" r="1.95" fill="#000"/>
<circle cx="455.25" cy="317.30" r="1.95" fill="#000"/>
<circle cx="458.95" cy="318.90" r="1.95" fill="#000"/>
<path d="M466.70 373.20 V367.57 H476.20 V373.20" fill="none" stroke="#F9407F" stroke-width="1.5"/>
<line x1="471.45" y1="371.44" x2="471.45" y2="362.64" stroke="#F47BA5" stroke-width="0.9"/>
<line x1="469.25" y1="362.64" x2="473.65" y2="362.64" stroke="#F47BA5" stroke-width="0.9"/>
<line x1="469.25" y1="371.44" x2="473.65" y2="371.44" stroke="#F47BA5" stroke-width="0.9"/>
<rect x="469.45" y="353.60" width="4.0" height="4.0" fill="#EE1C66"/>
<rect x="469.45" y="363.10" width="4.0" height="4.0" fill="#EE1C66"/>
<rect x="465.85" y="371.20" width="4.0" height="4.0" fill="#EE1C66"/>
<rect x="473.25" y="370.14" width="4.0" height="4.0" fill="#EE1C66"/>
<text x="463.55" y="385.80" font-size="7.6" font-weight="bold" text-anchor="middle" fill="#111" transform="translate(463.55 385.80) scale(0.850 1) translate(-463.55 -385.80)">miR-181c-5p</text>
<line x1="505.70" y1="373.20" x2="505.70" y2="377.20" stroke="#000" stroke-width="1.1"/>
<line x1="493.10" y1="329.20" x2="493.10" y2="373.20" stroke="#000" stroke-width="1.4"/>
<line x1="502.30" y1="329.20" x2="502.30" y2="373.20" stroke="#000" stroke-width="1.4"/>
<line x1="493.50" y1="319.40" x2="501.90" y2="319.40" stroke="#000" stroke-width="1.6"/>
<circle cx="494.00" cy="318.90" r="1.95" fill="#000"/>
<circle cx="497.90" cy="317.30" r="1.95" fill="#000"/>
<circle cx="501.60" cy="318.90" r="1.95" fill="#000"/>
<path d="M509.35 321.30 V312.87 H518.85 V321.30" fill="none" stroke="#F9407F" stroke-width="1.5"/>
<line x1="509.35" y1="329.20" x2="509.35" y2="373.20" stroke="#F9407F" stroke-width="1.5"/>
<line x1="518.85" y1="329.20" x2="518.85" y2="373.20" stroke="#F9407F" stroke-width="1.5"/>
<line x1="514.10" y1="318.92" x2="514.10" y2="305.55" stroke="#F47BA5" stroke-width="0.9"/>
<line x1="511.90" y1="305.55" x2="516.30" y2="305.55" stroke="#F47BA5" stroke-width="0.9"/>
<line x1="511.90" y1="318.92" x2="516.30" y2="318.92" stroke="#F47BA5" stroke-width="0.9"/>
<rect x="512.10" y="298.58" width="4.0" height="4.0" fill="#EE1C66"/>
<rect x="512.10" y="310.40" width="4.0" height="4.0" fill="#EE1C66"/>
<rect x="512.10" y="371.20" width="4.0" height="4.0" fill="#EE1C66"/>
<text x="506.20" y="385.80" font-size="7.6" font-weight="bold" text-anchor="middle" fill="#111" transform="translate(506.20 385.80) scale(0.850 1) translate(-506.20 -385.80)">miR-320a-3p</text>
<line x1="548.35" y1="373.20" x2="548.35" y2="377.20" stroke="#000" stroke-width="1.1"/>
<line x1="535.75" y1="329.20" x2="535.75" y2="373.20" stroke="#000" stroke-width="1.4"/>
<line x1="544.95" y1="329.20" x2="544.95" y2="373.20" stroke="#000" stroke-width="1.4"/>
<line x1="536.15" y1="319.40" x2="544.55" y2="319.40" stroke="#000" stroke-width="1.6"/>
<circle cx="536.65" cy="318.90" r="1.95" fill="#000"/>
<circle cx="540.55" cy="317.30" r="1.95" fill="#000"/>
<circle cx="544.25" cy="318.90" r="1.95" fill="#000"/>
<path d="M552.00 321.30 V293.92 H561.50 V321.30" fill="none" stroke="#F9407F" stroke-width="1.5"/>
<line x1="552.00" y1="329.20" x2="552.00" y2="373.20" stroke="#F9407F" stroke-width="1.5"/>
<line x1="561.50" y1="329.20" x2="561.50" y2="373.20" stroke="#F9407F" stroke-width="1.5"/>
<line x1="556.75" y1="297.51" x2="556.75" y2="290.19" stroke="#F47BA5" stroke-width="0.9"/>
<line x1="554.55" y1="290.19" x2="558.95" y2="290.19" stroke="#F47BA5" stroke-width="0.9"/>
<line x1="554.55" y1="297.51" x2="558.95" y2="297.51" stroke="#F47BA5" stroke-width="0.9"/>
<rect x="554.75" y="283.79" width="4.0" height="4.0" fill="#EE1C66"/>
<rect x="554.75" y="289.89" width="4.0" height="4.0" fill="#EE1C66"/>
<rect x="551.15" y="297.12" width="4.0" height="4.0" fill="#EE1C66"/>
<rect x="558.25" y="295.99" width="4.0" height="4.0" fill="#EE1C66"/>
<text x="548.85" y="385.80" font-size="7.6" font-weight="bold" text-anchor="middle" fill="#111" transform="translate(548.85 385.80) scale(0.850 1) translate(-548.85 -385.80)">miR-484</text>
<line x1="591.00" y1="373.20" x2="591.00" y2="377.20" stroke="#000" stroke-width="1.1"/>
<line x1="578.40" y1="329.20" x2="578.40" y2="373.20" stroke="#000" stroke-width="1.4"/>
<line x1="587.60" y1="329.20" x2="587.60" y2="373.20" stroke="#000" stroke-width="1.4"/>
<line x1="578.80" y1="319.40" x2="587.20" y2="319.40" stroke="#000" stroke-width="1.6"/>
<circle cx="579.30" cy="318.90" r="1.95" fill="#000"/>
<circle cx="583.20" cy="317.30" r="1.95" fill="#000"/>
<circle cx="586.90" cy="318.90" r="1.95" fill="#000"/>
<path d="M594.65 373.20 V355.60 H604.15 V373.20" fill="none" stroke="#F9407F" stroke-width="1.5"/>
<line x1="599.40" y1="364.40" x2="599.40" y2="346.80" stroke="#F47BA5" stroke-width="0.9"/>
<line x1="597.20" y1="346.80" x2="601.60" y2="346.80" stroke="#F47BA5" stroke-width="0.9"/>
<line x1="597.20" y1="364.40" x2="601.60" y2="364.40" stroke="#F47BA5" stroke-width="0.9"/>
<rect x="597.40" y="329.84" width="4.0" height="4.0" fill="#EE1C66"/>
<rect x="597.40" y="352.72" width="4.0" height="4.0" fill="#EE1C66"/>
<rect x="597.40" y="357.12" width="4.0" height="4.0" fill="#EE1C66"/>
<rect x="597.40" y="371.20" width="4.0" height="4.0" fill="#EE1C66"/>
<text x="591.50" y="385.80" font-size="7.6" font-weight="bold" text-anchor="middle" fill="#111" transform="translate(591.50 385.80) scale(0.850 1) translate(-591.50 -385.80)">miR-93-5p</text>
<line x1="413.90" y1="307.80" x2="428.80" y2="307.80" stroke="#000" stroke-width="1.4"/>
<line x1="413.90" y1="303.40" x2="413.90" y2="311.70" stroke="#000" stroke-width="1.4"/>
<line x1="428.80" y1="303.40" x2="428.80" y2="333.20" stroke="#000" stroke-width="1.4"/>
<text x="421.90" y="307.35" font-size="6.5" font-weight="bold" text-anchor="middle" fill="#111">***</text>
<line x1="455.40" y1="308.60" x2="471.20" y2="308.60" stroke="#000" stroke-width="1.4"/>
<line x1="455.40" y1="304.40" x2="455.40" y2="312.50" stroke="#000" stroke-width="1.4"/>
<line x1="471.20" y1="304.40" x2="471.20" y2="349.40" stroke="#000" stroke-width="1.4"/>
<text x="463.30" y="307.25" font-size="6.3" font-weight="bold" text-anchor="middle" fill="#111">****</text>
<line x1="541.70" y1="277.80" x2="556.40" y2="277.80" stroke="#000" stroke-width="1.4"/>
<line x1="541.70" y1="273.90" x2="541.70" y2="316.20" stroke="#000" stroke-width="1.4"/>
<line x1="556.40" y1="273.90" x2="556.40" y2="283.00" stroke="#000" stroke-width="1.4"/>
<text x="549.30" y="276.55" font-size="6.3" font-weight="bold" text-anchor="middle" fill="#111">****</text>
<line x1="585.40" y1="307.20" x2="598.40" y2="307.20" stroke="#000" stroke-width="1.4"/>
<line x1="585.40" y1="303.10" x2="585.40" y2="311.20" stroke="#000" stroke-width="1.4"/>
<line x1="598.40" y1="303.10" x2="598.40" y2="325.50" stroke="#000" stroke-width="1.4"/>
<text x="592.50" y="306.05" font-size="6.3" font-weight="bold" text-anchor="middle" fill="#111">**</text>
<circle cx="633.20" cy="282.70" r="1.9" fill="#000"/>
<text x="642.90" y="286.00" font-size="7.9" font-weight="normal" text-anchor="start" fill="#111" transform="translate(642.90 286.00) scale(0.880 1) translate(-642.90 -286.00)">Untreated</text>
<rect x="631.30" y="293.80" width="3.8" height="3.8" fill="#EE1C66"/>
<text x="642.90" y="298.30" font-size="7.9" font-weight="normal" text-anchor="start" fill="#111" transform="translate(642.90 298.30) scale(0.880 1) translate(-642.90 -298.30)">Rotenone</text>
<text x="431.20" y="253.80" font-size="10.9" font-weight="bold" text-anchor="start" fill="#111" transform="translate(431.20 253.80) scale(0.845 1) translate(-431.20 -253.80)">EVs from primary cortical cultures</text>
<text x="371.00" y="241.50" font-size="14.6" font-weight="normal" text-anchor="start" fill="#1a1a1a" stroke="#1a1a1a" stroke-width="0.5">(b)</text>
</svg></body></html>
